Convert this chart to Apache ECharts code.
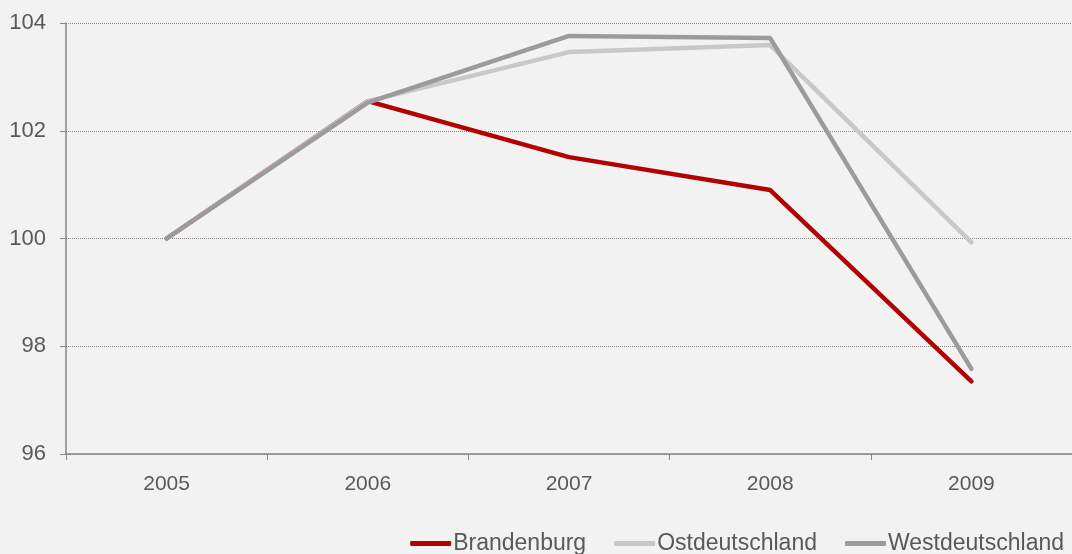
<!DOCTYPE html>
<html>
<head>
<meta charset="utf-8">
<style>
  html, body { margin: 0; padding: 0; background: #f2f2f2; }
  #chart { width: 1072px; height: 554px; }
</style>
<script src="https://cdn.jsdelivr.net/npm/echarts@6/dist/echarts.min.js"></script>
</head>
<body>
<div id="chart"></div>
<script>
// Jahre und Indexwerte (2005 = 100)
var years = ['2005', '2006', '2007', '2008', '2009'];
var brandenburg = [100, 102.55, 101.51, 100.9, 97.35];
var ostdeutschland = [100, 102.55, 103.46, 103.59, 99.93];
var westdeutschland = [100, 102.52, 103.76, 103.72, 97.58];

var chart = echarts.init(document.getElementById('chart'));

function line(name, data, color) {
  return {
    name: name,
    type: 'line',
    data: data,
    symbol: 'none',
    lineStyle: { color: color, width: 4.5, cap: 'round' },
    itemStyle: { color: color }
  };
}

chart.setOption({
  backgroundColor: '#f2f2f2',
  animation: false,
  textStyle: { fontFamily: 'Liberation Sans, Arial, sans-serif' },
  grid: { left: 66, top: 23, width: 1015, height: 431 },
  legend: {
    right: 8,
    top: 532,
    padding: 0,
    itemWidth: 41,
    itemHeight: 5,
    itemGap: 28,
    icon: 'roundRect',
    textStyle: { color: '#595959', fontSize: 23, padding: [0, 0, 0, -3] },
    data: ['Brandenburg', 'Ostdeutschland', 'Westdeutschland']
  },
  xAxis: {
    type: 'category',
    data: years,
    boundaryGap: true,
    axisLine: { lineStyle: { color: '#868686', width: 1.5 } },
    axisTick: { show: true, length: 6, lineStyle: { color: '#868686' } },
    axisLabel: { color: '#595959', fontSize: 21, margin: 20 }
  },
  yAxis: {
    type: 'value',
    min: 96,
    max: 104,
    interval: 2,
    axisLine: { show: true, lineStyle: { color: '#868686', width: 1.5 } },
    axisTick: { show: true, length: 6, lineStyle: { color: '#868686' } },
    axisLabel: { color: '#595959', fontSize: 22, margin: 20 },
    splitLine: { lineStyle: { color: '#8c8c8c', type: [1, 1], width: 1 } }
  },
  series: [
    line('Brandenburg', brandenburg, '#b30000'),
    line('Ostdeutschland', ostdeutschland, '#c8c8c8'),
    line('Westdeutschland', westdeutschland, '#9b9b9b')
  ]
});
</script>
</body>
</html>
